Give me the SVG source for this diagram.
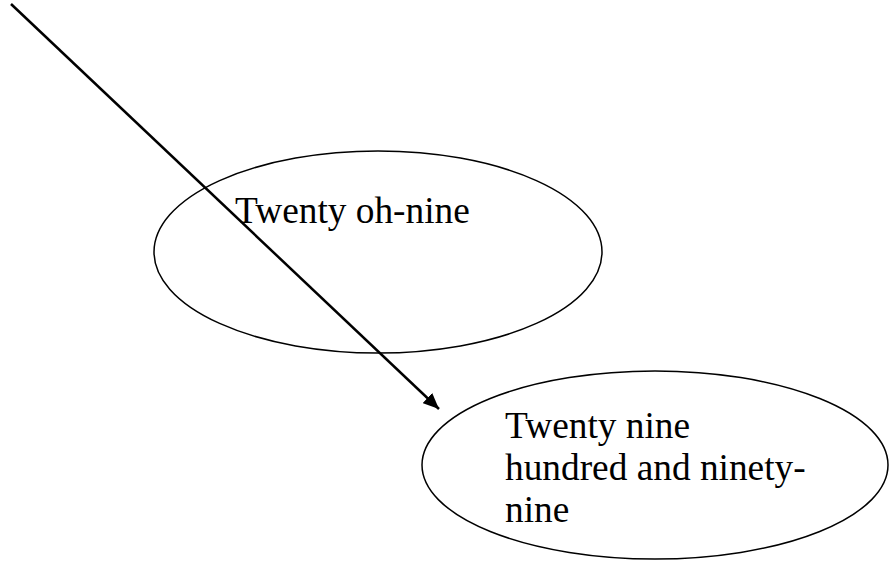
<svg xmlns="http://www.w3.org/2000/svg" width="891" height="573" viewBox="0 0 891 573">
<style>
.node{fill:none;stroke:#000;stroke-width:1.5}
.lbl{font-family:"Liberation Serif","Times New Roman",serif;font-size:37.33px;fill:#000}
.edge{stroke:#000;stroke-width:2.5;fill:none}
</style>
<defs>
<marker id="ah" markerUnits="userSpaceOnUse" markerWidth="18" markerHeight="14" refX="16" refY="7" orient="auto">
<path d="M0,0 L16,7 L0,14 Z" fill="#000"/>
</marker>
</defs>
<rect width="891" height="573" fill="#fff"/>
<g id="n1">
<ellipse class="node" cx="378" cy="252" rx="224" ry="101"/>
<text class="lbl" x="235" y="223">Twenty oh-nine</text>
</g>
<g id="n2">
<ellipse class="node" cx="655" cy="465" rx="233" ry="94"/>
<text class="lbl" x="505" y="438">Twenty nine</text>
<text class="lbl" x="505" y="480">hundred and ninety-</text>
<text class="lbl" x="505" y="522">nine</text>
</g>
<g id="edges">
<line class="edge" x1="11" y1="4" x2="439" y2="409" marker-end="url(#ah)"/>
</g>
</svg>
